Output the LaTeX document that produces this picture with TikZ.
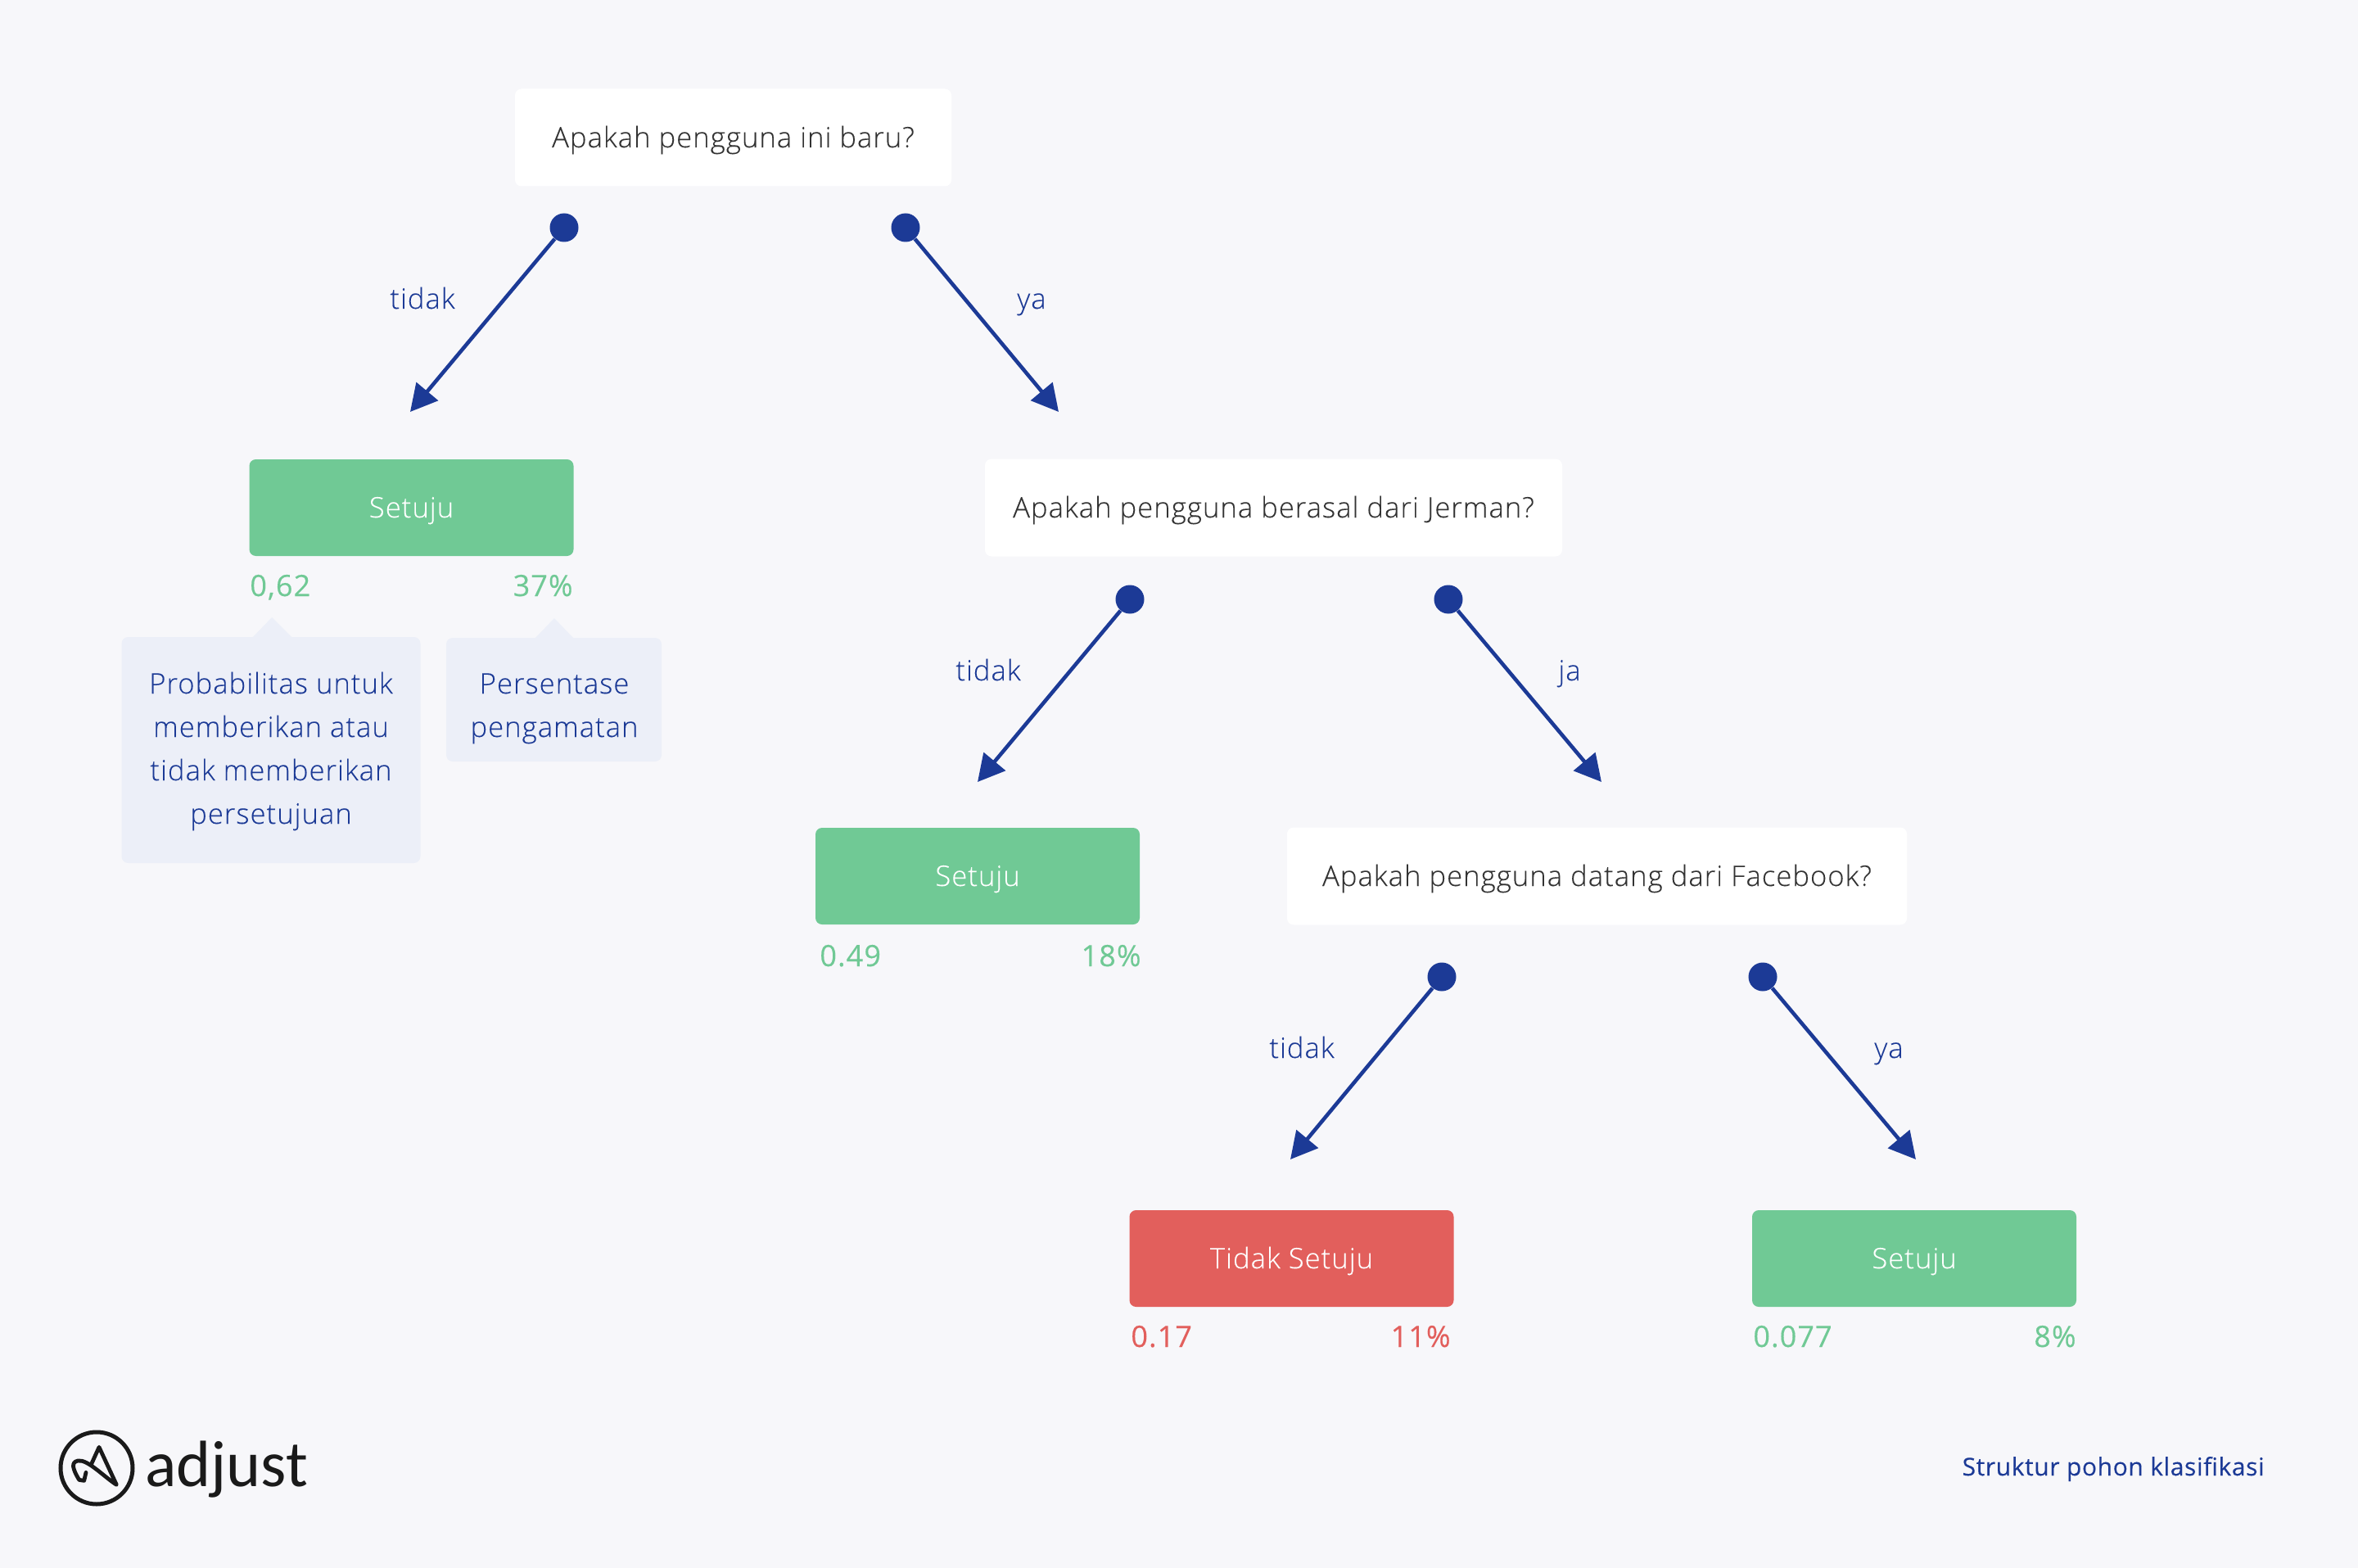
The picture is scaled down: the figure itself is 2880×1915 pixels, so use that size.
\documentclass[tikz,border=0pt]{standalone}
\usepackage{fontspec}
\setmainfont{Open Sans Light}[LetterSpace=3,FakeBold=0.1]
\newfontfamily\valfont{Open Sans}[LetterSpace=3,FakeBold=0.25]
\newfontfamily\footfont{Open Sans}[LetterSpace=2,FakeBold=0.2]
\newfontfamily\logofont{Carlito}
\usetikzlibrary{arrows.meta}
\definecolor{bgc}{HTML}{F7F7FA}
\definecolor{grn}{HTML}{70C995}
\definecolor{redc}{HTML}{E25F5C}
\definecolor{navy}{HTML}{1C3A96}
\definecolor{callc}{HTML}{ECEFF8}
\definecolor{darkt}{HTML}{333333}
\definecolor{logoc}{HTML}{1A1A1A}
\tikzset{
  x=0.5pt,y=-0.5pt,
  basefont/.style={font=\fontsize{17.3}{20}\selectfont},
  valfontst/.style={font=\fontsize{18}{20}\selectfont\valfont},
  textcenter/.style={text height=15pt,text depth=3pt},
  qbox/.style={fill=white,rounded corners=4pt,inner sep=0pt,minimum height=59.5pt,text=darkt,basefont,textcenter},
  ansbox/.style={rounded corners=4pt,inner sep=0pt,minimum width=198pt,minimum height=59pt,text=white,basefont,textcenter},
  dotn/.style={circle,fill=navy,inner sep=0pt,minimum size=17.5pt},
  conn/.style={draw=navy,line width=2.3pt,-{Triangle[length=16.3pt,width=17pt]}},
  edgelab/.style={text=navy,basefont,textcenter,inner sep=0pt},
  vall/.style={anchor=base west,valfontst,inner sep=0pt},
  valr/.style={anchor=base east,valfontst,inner sep=0pt},
  callout/.style={fill=callc,rounded corners=4pt},
  calltext/.style={text=navy,basefont,anchor=base,inner sep=0pt},
}
\begin{document}
\begin{tikzpicture}
\useasboundingbox[fill=bgc] (0,0) rectangle (2880,1915);

% question boxes
\node[qbox,minimum width=266.5pt] (q1) at (895.5,168) {Apakah pengguna ini baru?};
\node[qbox,minimum width=352.5pt] (q2) at (1555.5,620) {Apakah pengguna berasal dari Jerman?};
\node[qbox,minimum width=378.5pt] (q3) at (1950.5,1070) {Apakah pengguna datang dari Facebook?};

% answers
\node[ansbox,fill=grn] (a1) at (502.5,620) {Setuju};
\node[ansbox,fill=grn] (a2) at (1194,1070) {Setuju};
\node[ansbox,fill=redc] (a3) at (1577.5,1537) {Tidak Setuju};
\node[ansbox,fill=grn] (a4) at (2338,1537) {Setuju};

% values
\node[vall,text=grn] (v1l) at (305,728) {0,62};
\node[valr,text=grn] (v1r) at (700,728) {37\%};
\node[vall,text=grn] (v2l) at (1001,1180) {0.49};
\node[valr,text=grn] (v2r) at (1394,1180) {18\%};
\node[vall,text=redc] (v3l) at (1381,1645) {0.17};
\node[valr,text=redc] (v3r) at (1772,1645) {11\%};
\node[vall,text=grn] (v4l) at (2141,1645) {0.077};
\node[valr,text=grn] (v4r) at (2536,1645) {8\%};

% dots
\node[dotn] (d1) at (689,278) {};
\node[dotn] (d2) at (1106,278) {};
\node[dotn] (d3) at (1380,732) {};
\node[dotn] (d4) at (1769,732) {};
\node[dotn] (d5) at (1761,1193) {};
\node[dotn] (d6) at (2153,1193) {};

% arrow ends
\coordinate (t1) at (501,503);
\coordinate (t2) at (1293,503);
\coordinate (t3) at (1194,955);
\coordinate (t4) at (1956,955);
\coordinate (t5) at (1576,1416);
\coordinate (t6) at (2340,1416);
\draw[conn] (d1) -- (t1);
\draw[conn] (d2) -- (t2);
\draw[conn] (d3) -- (t3);
\draw[conn] (d4) -- (t4);
\draw[conn] (d5) -- (t5);
\draw[conn] (d6) -- (t6);

% edge labels
\node[edgelab] (l1) at (516,365) {tidak};
\node[edgelab] (l2) at (1260,365) {ya};
\node[edgelab] (l3) at (1207,819) {tidak};
\node[edgelab] (l4) at (1917,819) {ja};
\node[edgelab] (l5) at (1590,1280) {tidak};
\node[edgelab] (l6) at (2307,1280) {ya};

% callouts
\fill[callc] (308,779) -- (332,754) -- (357,779) -- cycle;
\fill[callout] (148.5,778) rectangle (513.5,1054);
\fill[callc] (653,780) -- (677,755) -- (701,780) -- cycle;
\fill[callout] (545,779) rectangle (808,930);
\node[calltext] (c11) at (331,847) {Probabilitas untuk};
\node[calltext] (c12) at (331,900) {memberikan atau};
\node[calltext] (c13) at (331,953) {tidak memberikan};
\node[calltext] (c14) at (331,1006) {persetujuan};
\node[calltext] (c21) at (677,847) {Persentase};
\node[calltext] (c22) at (677,900) {pengamatan};

% footer
\node[anchor=base east,text=navy,inner sep=0pt,font=\fontsize{15}{18}\selectfont\footfont] (foot) at (2766,1802) {Struktur pohon klasifikasi};

% logo
\node[circle,draw=logoc,line width=2.5pt,inner sep=0pt,minimum size=44pt] (logoring) at (118,1793) {};
\begin{scope}[shift={(40,1710)},x=0.1667pt,y=-0.1667pt,line width=2.4pt,draw=logoc,line join=round,line cap=round]
\draw (213,238) -- (243,172) -- (307,310)
      .. controls (260,280) and (200,215) .. (165,222)
      .. controls (140,228) and (145,250) .. (170,292)
      -- (188,295) -- (195,265);
\end{scope}
\node[anchor=base west,text=logoc,inner sep=0pt,font=\fontsize{40}{44}\selectfont\logofont] (logotext) at (177,1815) {adjust};
\end{tikzpicture}
\end{document}
